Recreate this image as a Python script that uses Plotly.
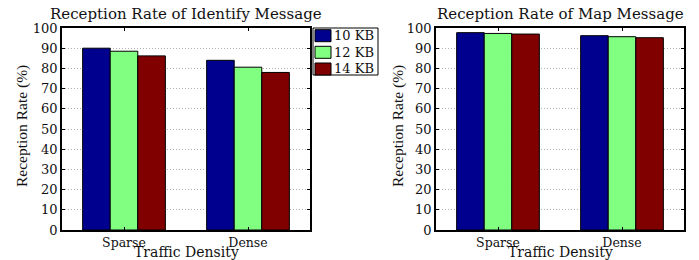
import plotly.graph_objects as go

categories = ["Sparse", "Dense"]
series_names = ["10 KB", "12 KB", "14 KB"]
colors = ["#00008F", "#80FF80", "#800000"]
identify_values = [
    [90.0, 84.0],
    [88.5, 80.6],
    [86.2, 78.0],
]
map_values = [
    [97.7, 96.2],
    [97.3, 95.7],
    [97.0, 95.2],
]
y_ticks = list(range(0, 101, 10))
titles = ["Reception Rate of Identify Message", "Reception Rate of Map Message"]

W, H = 699, 260
SERIF = "DejaVu Serif"
TIMES = "Liberation Serif"

fig = go.Figure()
for i, name in enumerate(series_names):
    fig.add_trace(go.Bar(x=[1, 2], y=identify_values[i], name=name,
                         marker=dict(color=colors[i], line=dict(color="#000", width=1)),
                         xaxis="x", yaxis="y"))
for i, name in enumerate(series_names):
    fig.add_trace(go.Bar(x=[1, 2], y=map_values[i], name=name,
                         marker=dict(color=colors[i], line=dict(color="#000", width=1)),
                         xaxis="x2", yaxis="y2"))

def px_x(p):
    return p / W

def px_y(p):
    return 1 - p / H

ydom = [px_y(230), px_y(28)]
axis_common = dict(showline=True, linecolor="#000", linewidth=1.5, mirror="ticks",
                   ticks="inside", ticklen=3, tickcolor="#000", automargin=False,
                   tickfont=dict(family=SERIF, size=13, color="#111"))
xaxis_font = dict(family=SERIF, size=12.5, color="#111")
grid = dict(showgrid=True, gridcolor="#b0b0b0", griddash="1px,2px", gridwidth=1,
            zeroline=False)

fig.update_layout(
    width=W, height=H, margin=dict(l=0, r=0, t=0, b=0, autoexpand=False),
    paper_bgcolor="white", plot_bgcolor="white",
    barmode="group", bargap=0.333, bargroupgap=0,
    showlegend=False,
    xaxis=dict(domain=[px_x(62), px_x(310)], range=[0.5, 2.5], tickvals=[1, 2],
               ticktext=categories, showgrid=False, anchor="y", **axis_common),
    yaxis=dict(domain=ydom, range=[0, 100], tickvals=y_ticks, anchor="x",
               **grid, **axis_common),
    xaxis2=dict(domain=[px_x(436), px_x(684)], range=[0.5, 2.5], tickvals=[1, 2],
                ticktext=categories, showgrid=False, anchor="y2", **axis_common),
    yaxis2=dict(domain=ydom, range=[0, 100], tickvals=y_ticks, anchor="x2",
                **grid, **axis_common),
)
fig.update_xaxes(tickfont=xaxis_font)

def ann(text, x, y, size, family=SERIF, angle=0, xanchor="center"):
    return dict(text=text, x=px_x(x), y=px_y(y), xref="paper", yref="paper",
                xanchor=xanchor, yanchor="middle", showarrow=False, textangle=angle,
                font=dict(family=family, size=size, color="#111"))

annotations = [
    ann(titles[0], 186, 14, 15),
    ann(titles[1], 560, 14, 15),
    ann("Traffic Density", 186, 252, 14),
    ann("Traffic Density", 560, 252, 14),
    ann("Reception Rate (%)", 22, 126, 15.5, TIMES, -90),
    ann("Reception Rate (%)", 398, 126, 15.5, TIMES, -90),
]

# legend box (drawn manually to match the compact original legend)
shapes = [dict(type="rect", xref="paper", yref="paper",
               x0=px_x(313), x1=px_x(378), y0=px_y(75), y1=px_y(28),
               line=dict(color="#000", width=1), fillcolor="white")]
entry_y = [35.7, 52.3, 69.0]
for name, col, yy in zip(series_names, colors, entry_y):
    shapes.append(dict(type="rect", xref="paper", yref="paper",
                       x0=px_x(315), x1=px_x(331), y0=px_y(yy + 6), y1=px_y(yy - 6),
                       line=dict(color="#000", width=1), fillcolor=col))
    annotations.append(ann(name, 332, yy, 13, SERIF, 0, "left"))

fig.update_layout(annotations=annotations, shapes=shapes)

fig.write_html("out.html", config={"displayModeBar": False},
               post_script="document.body.style.margin='0';document.body.style.overflow='hidden';")
